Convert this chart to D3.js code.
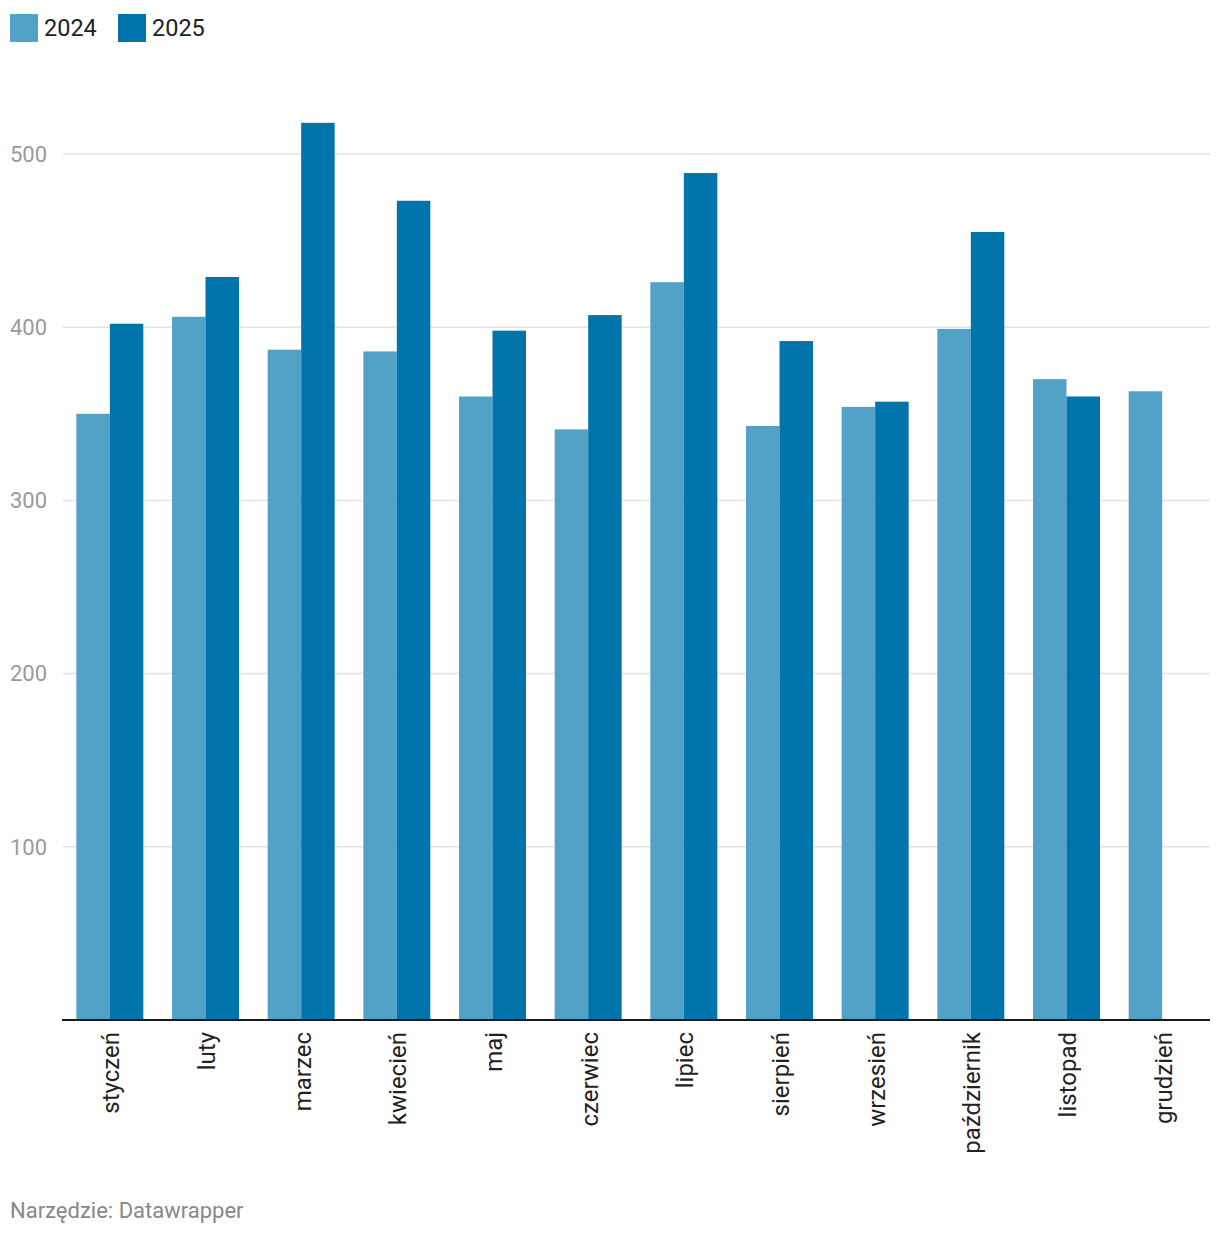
<!DOCTYPE html>
<html>
<head>
<meta charset="utf-8">
<script src="https://cdn.jsdelivr.net/npm/d3@7"></script>
<style>
  body { margin: 0; background: #fff; font-family: Roboto, "Noto Sans", sans-serif; }
</style>
</head>
<body>
<div id="chart"></div>
<script>
// dane
const months = ["styczeń", "luty", "marzec", "kwiecień", "maj", "czerwiec", "lipiec", "sierpień", "wrzesień", "październik", "listopad", "grudzień"];
const series = ["2024", "2025"];
const values2024 = [350, 406, 387, 386, 360, 341, 426, 343, 354, 399, 370, 363];
const values2025 = [402, 429, 518, 473, 398, 407, 489, 392, 357, 455, 360, null];
const yTicks = [100, 200, 300, 400, 500];
const colours = ["#52a1c7", "#0074ab"];

const width = 1220, height = 1236;
const margin = {top: 0, left: 62, right: 10};
const baseY = 1020;

const svg = d3.select("#chart")
  .append("svg")
  .attr("width", width)
  .attr("height", height);

const x = d3.scaleBand()
  .domain(months)
  .range([margin.left, width - margin.right])
  .paddingInner(0.3)
  .paddingOuter(0.15);

const xSub = d3.scaleBand()
  .domain(series)
  .range([0, x.bandwidth()]);

const y = d3.scaleLinear()
  .domain([0, 500])
  .range([baseY, 154]);

// siatka + etykiety osi y
const grid = svg.append("g");
yTicks.forEach(function(t) {
  grid.append("line")
    .attr("x1", 63).attr("x2", width - margin.right)
    .attr("y1", y(t)).attr("y2", y(t))
    .attr("stroke", "#e3e3e3")
    .attr("stroke-width", 1.5);
  grid.append("text")
    .attr("x", 10)
    .attr("y", y(t))
    .attr("dy", "0.35em")
    .attr("fill", "#9a9a9a")
    .style("font-size", "22px")
    .text(t);
});

// słupki
const data = [values2024, values2025];
data.forEach(function(vals, i) {
  svg.append("g")
    .selectAll("rect")
    .data(months.map(function(m, j) { return {month: m, value: vals[j]}; }).filter(function(d) { return d.value != null; }))
    .enter()
    .append("rect")
    .attr("x", function(d) { return x(d.month) + xSub(series[i]); })
    .attr("y", function(d) { return y(d.value); })
    .attr("width", xSub.bandwidth())
    .attr("height", function(d) { return baseY - y(d.value); })
    .attr("fill", colours[i]);
});

// oś x
svg.append("line")
  .attr("x1", margin.left).attr("x2", width - margin.right)
  .attr("y1", baseY).attr("y2", baseY)
  .attr("stroke", "#1a1a1a")
  .attr("stroke-width", 2);

svg.append("g")
  .selectAll("text")
  .data(months)
  .enter()
  .append("text")
  .attr("transform", function(d) {
    return `translate(${x(d) + x.bandwidth() / 2 + 1}, 1032) rotate(-90)`;
  })
  .attr("text-anchor", "end")
  .attr("dy", "0.35em")
  .attr("fill", "#222")
  .style("font-size", "24px")
  .text(function(d) { return d; });

// legenda
const legend = svg.append("g");
const legendX = [10, 118];
series.forEach(function(s, i) {
  legend.append("rect")
    .attr("x", legendX[i]).attr("y", 14)
    .attr("width", 28).attr("height", 28)
    .attr("fill", colours[i]);
  legend.append("text")
    .attr("x", legendX[i] + 34)
    .attr("y", 28)
    .attr("dy", "0.35em")
    .attr("fill", "#222")
    .style("font-size", "23.5px")
    .text(s);
});

// stopka
svg.append("text")
  .attr("x", 10)
  .attr("y", 1218)
  .attr("fill", "#888")
  .style("font-size", "22px")
  .text("Narzędzie: Datawrapper");
</script>
</body>
</html>
